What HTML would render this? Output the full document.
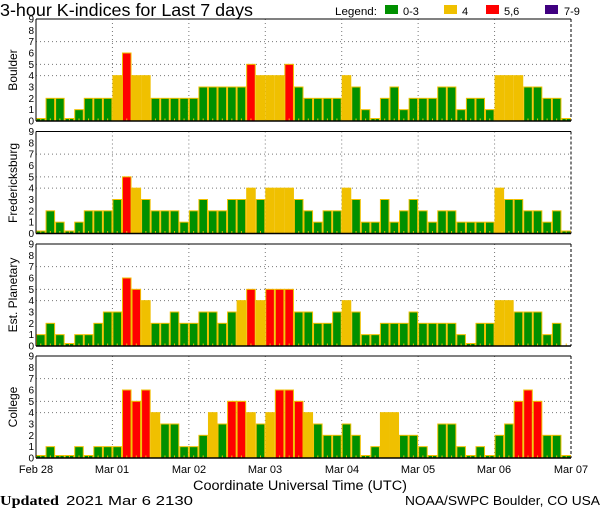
<!DOCTYPE html>
<html><head><meta charset="utf-8"><style>
body{margin:0;background:#fff;width:600px;height:510px;overflow:hidden}
svg{display:block}
text{font-family:"Liberation Sans",sans-serif;fill:#000}
</style></head><body>
<svg id="s" width="600" height="510" xmlns="http://www.w3.org/2000/svg">
<text x="0" y="16" font-size="17.5" textLength="253" lengthAdjust="spacingAndGlyphs">3-hour K-indices for Last 7 days</text>
<text x="335" y="15" font-size="11" textLength="42" lengthAdjust="spacingAndGlyphs">Legend:</text>
<rect x="385" y="5" width="13" height="9" fill="#009000"/><text x="403" y="15" font-size="11">0-3</text>
<rect x="444" y="5" width="13" height="9" fill="#f0c000"/><text x="462" y="15" font-size="11">4</text>
<rect x="486" y="5" width="13" height="9" fill="#ff0000"/><text x="504" y="15" font-size="11">5,6</text>
<rect x="545" y="5" width="13" height="9" fill="#400080"/><text x="564" y="15" font-size="11">7-9</text>
<text transform="translate(17,70) rotate(-90)" font-size="12" text-anchor="middle">Boulder</text>
<text transform="translate(17,183) rotate(-90)" font-size="12" text-anchor="middle">Fredericksburg</text>
<text transform="translate(17,295) rotate(-90)" font-size="12" text-anchor="middle">Est. Planetary</text>
<text transform="translate(17,407) rotate(-90)" font-size="12" text-anchor="middle">College</text>
<g font-size="11" text-anchor="middle">
<text x="36" y="473">Feb 28</text><text x="112" y="473">Mar 01</text><text x="189" y="473">Mar 02</text><text x="265" y="473">Mar 03</text><text x="342" y="473">Mar 04</text><text x="418" y="473">Mar 05</text><text x="494" y="473">Mar 06</text><text x="571" y="473">Mar 07</text>
</g>
<text x="193" y="490" font-size="13.5" textLength="214" lengthAdjust="spacingAndGlyphs">Coordinate Universal Time (UTC)</text>
<text x="0" y="505" font-size="14" font-weight="bold" style="font-family:'Liberation Serif',serif" textLength="59" lengthAdjust="spacingAndGlyphs">Updated</text>
<text x="66" y="505" font-size="13" textLength="127" lengthAdjust="spacingAndGlyphs">2021 Mar  6 2130</text>
<text x="405" y="505" font-size="13" textLength="195" lengthAdjust="spacingAndGlyphs">NOAA/SWPC Boulder, CO USA</text>
<g id="g"></g>
</svg>
<script>
var D=[
[0,2,2,0,1,2,2,2,4,6,4,4,2,2,2,2,2,3,3,3,3,3,5,4,4,4,5,3,2,2,2,2,4,3,1,0,2,3,1,2,2,2,3,3,1,2,2,1,4,4,4,3,3,2,2,0],
[0,2,1,0,1,2,2,2,3,5,4,3,2,2,2,1,2,3,2,2,3,3,4,3,4,4,4,3,2,1,2,2,4,3,1,1,3,1,2,3,2,1,2,2,1,1,1,1,4,3,3,2,2,1,2,0],
[1,2,1,0,1,1,2,3,3,6,5,4,2,2,3,2,2,3,3,2,3,4,5,4,5,5,5,3,3,2,2,3,4,3,1,1,2,2,2,3,2,2,2,2,1,0,2,2,4,4,3,3,3,1,2,null],
[0,1,0,0,1,0,1,1,1,6,5,6,4,3,3,1,1,2,4,3,5,5,4,3,4,6,6,5,4,3,2,2,3,2,0,1,4,4,2,2,1,0,3,3,1,0,1,0,2,3,5,6,5,2,2,0]];
var tops=[19,131.5,244,356],L=36,R=571,W=(R-L)/56,u=102/9,h='';
function col(k){return k<=3?'#009000':k==4?'#f0c000':k<=6?'#ff0000':'#400080';}
for(var p=0;p<4;p++){var T=tops[p],B=T+102;
 [4,5,7].forEach(function(k){var y=B-k*u;h+='<line x1="'+L+'" x2="'+R+'" y1="'+y+'" y2="'+y+'" stroke="#777" stroke-dasharray="1,3"/>';});
 for(var d=1;d<7;d++){var x=L+d*8*W;h+='<line x1="'+x+'" x2="'+x+'" y1="'+T+'" y2="'+B+'" stroke="#777" stroke-dasharray="1,3"/>';}
 for(var i=0;i<56;i++){var k=D[p][i],x=L+i*W;
  if(k!==null){var ht=k==0?2.5:k*u;h+='<rect x="'+(x+0.5)+'" y="'+(B-ht)+'" width="'+(W-1)+'" height="'+ht+'" fill="'+col(k)+'" stroke="#f0c000" stroke-width="1"/>';}
  h+='<line x1="'+(x+W/2)+'" x2="'+(x+W/2)+'" y1="'+(B-2.5)+'" y2="'+B+'" stroke="#f0c000"/>';}
 h+='<line x1="'+L+'" x2="'+R+'" y1="'+T+'" y2="'+T+'" stroke="#000"/>';
 h+='<line x1="'+L+'" x2="'+R+'" y1="'+B+'" y2="'+B+'" stroke="#000" stroke-width="1.5"/>';
 h+='<line x1="'+L+'" x2="'+L+'" y1="'+T+'" y2="'+B+'" stroke="#000"/>';
 h+='<line x1="'+R+'" x2="'+R+'" y1="'+T+'" y2="'+B+'" stroke="#000" stroke-dasharray="3,2"/>';
 for(var k=0;k<=9;k++){h+='<text x="34" y="'+(B-k*u+3.5)+'" font-size="10" text-anchor="end">'+k+'</text>';}
}
document.getElementById('g').innerHTML=h;
</script>
</body></html>
